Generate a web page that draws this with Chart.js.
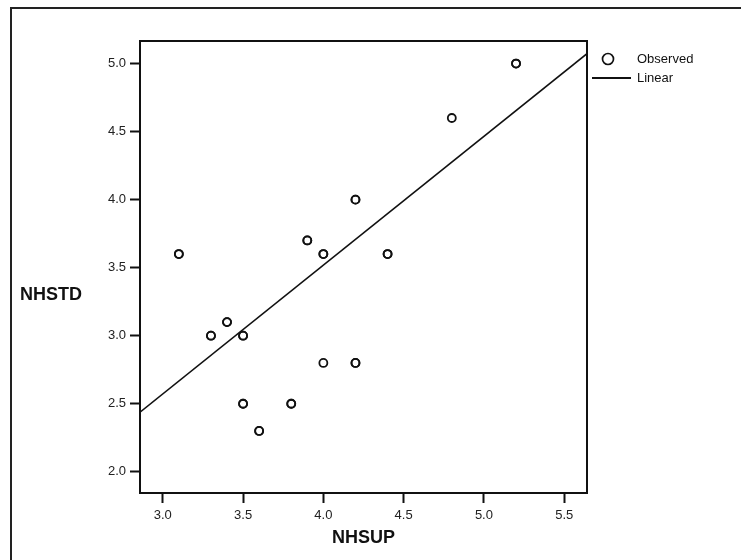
<!DOCTYPE html>
<html>
<head>
<meta charset="utf-8">
<script src="https://cdn.jsdelivr.net/npm/chart.js@4/dist/chart.umd.min.js"></script>
<style>
  html, body { margin: 0; padding: 0; background: #fff; }
  #wrap { position: relative; width: 741px; height: 560px; }
</style>
</head>
<body>
<div id="wrap"><canvas id="c" width="741" height="560"></canvas></div>
<script>
// Observations (repeated pairs are overlapping cases)
const nhsup = [3.1, 3.1, 3.3, 3.3, 3.4, 3.4, 3.5, 3.5, 3.5, 3.5, 3.6, 3.6, 3.8, 3.8,
               3.9, 3.9, 4.0, 4.0, 4.0, 4.2, 4.2, 4.2, 4.2, 4.4, 4.4, 4.8, 5.2, 5.2];
const nhstd = [3.6, 3.6, 3.0, 3.0, 3.1, 3.1, 3.0, 3.0, 2.5, 2.5, 2.3, 2.3, 2.5, 2.5,
               3.7, 3.7, 3.6, 3.6, 2.8, 4.0, 4.0, 2.8, 2.8, 3.6, 3.6, 4.6, 5.0, 5.0];

// Linear model: NHSTD = b0 + b1 * NHSUP
const fitIntercept = -0.267;
const fitSlope = 0.9465;

// Axis ranges and tick labels
const xRange = [2.858, 5.642];
const yRange = [1.844, 5.166];
const xTicks = [3.0, 3.5, 4.0, 4.5, 5.0, 5.5];
const yTicks = [2.0, 2.5, 3.0, 3.5, 4.0, 4.5, 5.0];

const seriesNames = ['Observed', 'Linear'];
const xTitle = 'NHSUP';
const yTitle = 'NHSTD';

const FONT = '"Liberation Sans", Arial, Helvetica, sans-serif';
const INK = '#111';
const TICK_INK = '#222';

const observed = nhsup.map((x, i) => ({ x: x, y: nhstd[i] }));
const fitted = xRange.map(x => ({ x: x, y: fitIntercept + fitSlope * x }));

// Frame, plot box, horizontal y title and legend
const decor = {
  id: 'decor',
  beforeDraw(chart) {
    const ctx = chart.ctx;
    ctx.save();
    ctx.strokeStyle = '#222';
    ctx.lineWidth = 2;
    ctx.beginPath();
    ctx.moveTo(11, 560);
    ctx.lineTo(11, 8);
    ctx.lineTo(741, 8);
    ctx.stroke();
    ctx.restore();
  },
  afterDraw(chart) {
    const ctx = chart.ctx;
    const a = chart.chartArea;
    ctx.save();
    ctx.strokeStyle = INK;
    ctx.lineWidth = 2;
    ctx.strokeRect(a.left, a.top, a.right - a.left, a.bottom - a.top);

    ctx.fillStyle = INK;
    ctx.font = 'bold 18px ' + FONT;
    ctx.textAlign = 'left';
    ctx.textBaseline = 'middle';
    ctx.fillText(yTitle, 20, 295);

    // legend
    const lx = a.right;
    ctx.font = '13px ' + FONT;
    ctx.lineWidth = 1.7;
    ctx.beginPath();
    ctx.arc(lx + 21, 59, 5.5, 0, Math.PI * 2);
    ctx.stroke();
    ctx.fillText(seriesNames[0], lx + 50, 59);
    ctx.lineWidth = 2;
    ctx.beginPath();
    ctx.moveTo(lx + 5, 78);
    ctx.lineTo(lx + 44, 78);
    ctx.stroke();
    ctx.fillText(seriesNames[1], lx + 50, 78);
    ctx.restore();
  }
};

const fixTicks = list => scale => { scale.ticks = list.map(v => ({ value: v })); };

new Chart(document.getElementById('c'), {
  data: {
    datasets: [
      {
        type: 'scatter',
        label: seriesNames[0],
        data: observed,
        pointStyle: 'circle',
        pointRadius: 4,
        pointBorderWidth: 1.8,
        borderColor: INK,
        backgroundColor: 'rgba(255,255,255,0)',
        order: 1
      },
      {
        type: 'line',
        label: seriesNames[1],
        data: fitted,
        borderColor: INK,
        borderWidth: 1.6,
        pointRadius: 0,
        fill: false,
        order: 2
      }
    ]
  },
  options: {
    responsive: false,
    animation: false,
    events: [],
    layout: { padding: { left: 100, top: 41, right: 154, bottom: 0 } },
    plugins: { legend: { display: false }, tooltip: { enabled: false } },
    scales: {
      x: {
        type: 'linear',
        position: 'bottom',
        min: xRange[0],
        max: xRange[1],
        afterBuildTicks: fixTicks(xTicks),
        afterFit: s => { s.height = 67; },
        grid: { drawOnChartArea: false, drawTicks: true, tickLength: 10, tickWidth: 2, tickColor: INK },
        border: { display: true, color: INK, width: 2 },
        ticks: {
          color: TICK_INK,
          font: { family: FONT, size: 13 },
          padding: 5,
          maxRotation: 0,
          autoSkip: false,
          callback: v => Number(v).toFixed(1)
        },
        title: {
          display: true,
          text: xTitle,
          color: INK,
          font: { family: FONT, size: 18, weight: 'bold' },
          padding: { top: 0, bottom: 11 }
        }
      },
      y: {
        type: 'linear',
        position: 'left',
        min: yRange[0],
        max: yRange[1],
        afterBuildTicks: fixTicks(yTicks),
        afterFit: s => { s.width = 40; },
        grid: { drawOnChartArea: false, drawTicks: true, tickLength: 10, tickWidth: 2, tickColor: INK },
        border: { display: true, color: INK, width: 2 },
        ticks: {
          color: TICK_INK,
          font: { family: FONT, size: 13 },
          padding: 4,
          autoSkip: false,
          callback: v => Number(v).toFixed(1)
        }
      }
    }
  },
  plugins: [decor]
});
</script>
</body>
</html>
